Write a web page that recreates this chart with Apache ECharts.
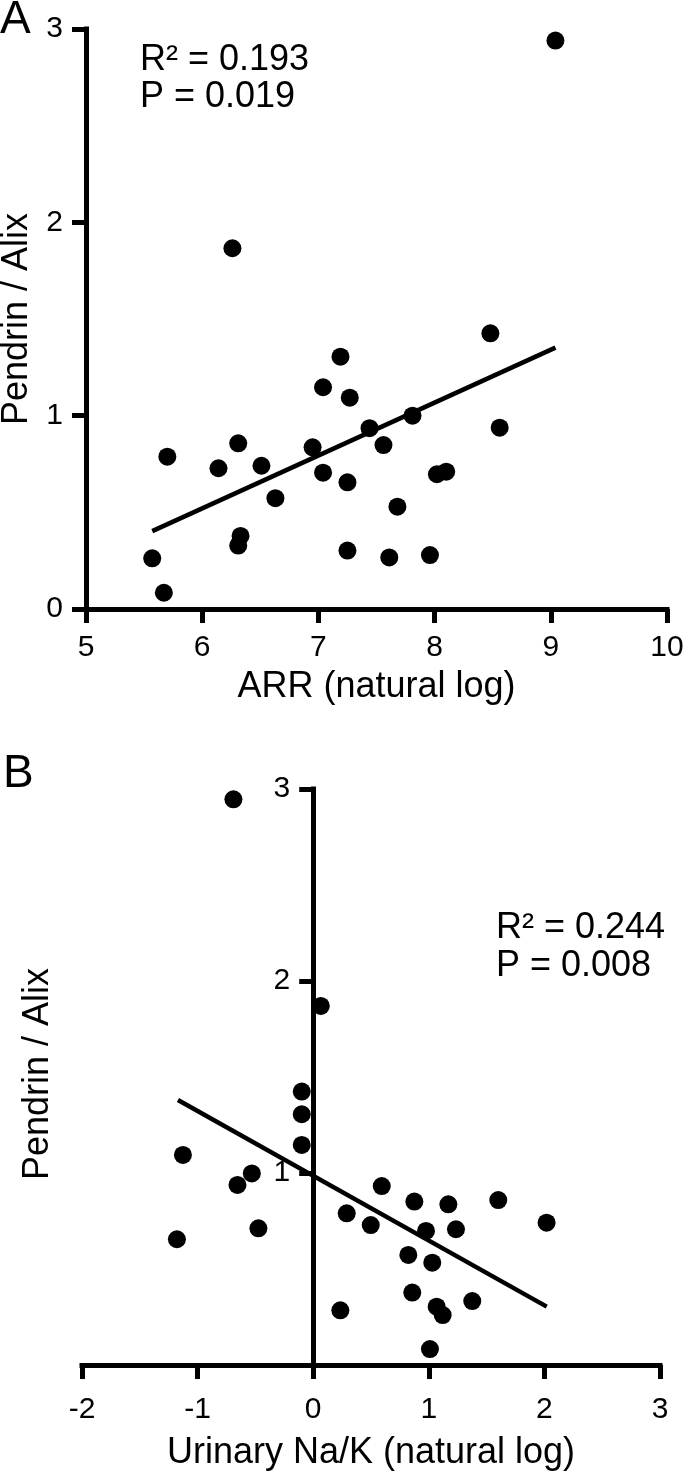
<!DOCTYPE html>
<html><head><meta charset="utf-8">
<script src="https://cdn.jsdelivr.net/npm/echarts@6/dist/echarts.min.js"></script>
<style>html,body{margin:0;padding:0;background:#fff}#c{width:685px;height:1475px}</style>
</head><body><div id="c"></div>
<script>
// Panel A: ARR (natural log) vs Pendrin / Alix
const arrX = [5.57, 5.67, 5.70, 6.14, 6.31, 6.33, 6.31, 6.51, 6.63, 6.95, 7.04, 7.04, 7.19, 7.27, 7.25, 7.44, 7.56, 7.81, 7.68, 7.25, 7.61, 7.96, 8.02, 8.10, 8.48, 8.56, 6.26, 9.04];
const arrY = [0.262, 0.084, 0.788, 0.728, 0.857, 0.378, 0.328, 0.741, 0.573, 0.836, 0.705, 1.147, 1.305, 1.093, 0.655, 0.935, 0.848, 1.000, 0.529, 0.302, 0.267, 0.279, 0.697, 0.710, 1.426, 0.938, 1.866, 2.940];
const arrFitX = [5.57, 9.04];
const arrFitY = [0.403, 1.352];
const arrStats = ['R\u00B2 = 0.193', 'P = 0.019'];
const arrXRange = [5, 10];

// Panel B: Urinary Na/K (natural log) vs Pendrin / Alix
const naKX = [-0.099, -0.099, -0.099, -1.127, -0.531, -0.655, -0.474, -1.179, 0.235, 0.290, -0.690, 0.066, 0.593, 0.498, 0.875, 1.169, 1.601, 2.019, 0.976, 1.235, 0.823, 1.030, 0.857, 1.068, 1.120, 1.376, 1.010];
const naKY = [1.424, 1.306, 1.146, 1.094, 0.998, 0.938, 0.712, 0.655, 0.285, 0.790, 2.946, 1.870, 0.932, 0.729, 0.851, 0.837, 0.859, 0.741, 0.698, 0.707, 0.573, 0.533, 0.377, 0.304, 0.260, 0.333, 0.083];
const naKFitX = [-1.17, 2.02];
const naKFitY = [1.380, 0.304];
const naKStats = ['R\u00B2 = 0.244', 'P = 0.008'];
const naKXRange = [-2, 3];

const yRange = [0, 3];
const yTitle = 'Pendrin / Alix';
const xTitleA = 'ARR (natural log)';
const xTitleB = 'Urinary Na/K (natural log)';

const FONT = '"Liberation Sans", Arial, sans-serif';
const zip = (xs, ys) => xs.map((x, i) => [x, ys[i]]);

const gridA = { left: 86, top: 29, width: 581, height: 580 };
const gridB = { left: 82, top: 789, width: 578, height: 576 };
// y axis of panel B crosses the x axis at x = 0
const yAxisBOffset = -((0 - naKXRange[0]) / (naKXRange[1] - naKXRange[0])) * gridB.width;

function label(margin, extra) {
  return Object.assign({ color: '#000', fontSize: 30, fontFamily: FONT, margin: margin }, extra || {});
}
function baseAxis(extra) {
  return Object.assign({
    type: 'value',
    axisLine: { show: true, lineStyle: { color: '#000', width: 5, cap: 'square' } },
    axisTick: { show: true, inside: false, length: 14, lineStyle: { color: '#000', width: 5 } },
    splitLine: { show: false },
    nameTextStyle: { color: '#000', fontSize: 36, fontFamily: FONT }
  }, extra);
}

const chart = echarts.init(document.getElementById('c'), null, { renderer: 'canvas' });
chart.setOption({
  backgroundColor: '#fff',
  animation: false,
  grid: [
    Object.assign({ outerBoundsMode: 'none' }, gridA),
    Object.assign({ outerBoundsMode: 'none' }, gridB)
  ],
  xAxis: [
    baseAxis({ gridIndex: 0, min: arrXRange[0], max: arrXRange[1], interval: 1,
      name: xTitleA, nameLocation: 'middle', nameGap: 60, axisLabel: label(24) }),
    baseAxis({ gridIndex: 1, min: naKXRange[0], max: naKXRange[1], interval: 1,
      name: xTitleB, nameLocation: 'middle', nameGap: 70, axisLabel: label(30) })
  ],
  yAxis: [
    baseAxis({ gridIndex: 0, min: yRange[0], max: yRange[1], interval: 1,
      name: yTitle, nameLocation: 'middle', nameGap: 48, axisLabel: label(23) }),
    baseAxis({ gridIndex: 1, min: yRange[0], max: yRange[1], interval: 1,
      position: 'left', offset: yAxisBOffset,
      axisLine: { show: true, onZero: false, lineStyle: { color: '#000', width: 5, cap: 'square' } },
      axisLabel: label(23, { formatter: v => (v === 0 ? '' : String(v)) }) })
  ],
  series: [
    { type: 'scatter', xAxisIndex: 0, yAxisIndex: 0, data: zip(arrX, arrY),
      symbol: 'circle', symbolSize: 18, itemStyle: { color: '#000', opacity: 1 }, z: 3 },
    { type: 'line', xAxisIndex: 0, yAxisIndex: 0, data: zip(arrFitX, arrFitY),
      showSymbol: false, symbol: 'none', lineStyle: { color: '#000', width: 4.5 }, z: 2 },
    { type: 'scatter', xAxisIndex: 1, yAxisIndex: 1, data: zip(naKX, naKY),
      symbol: 'circle', symbolSize: 18, itemStyle: { color: '#000', opacity: 1 }, z: 3 },
    { type: 'line', xAxisIndex: 1, yAxisIndex: 1, data: zip(naKFitX, naKFitY),
      showSymbol: false, symbol: 'none', lineStyle: { color: '#000', width: 4.5 }, z: 2 }
  ],
  graphic: [
    { type: 'text', left: 0, top: -3, style: { text: 'A', font: '46px ' + FONT, fill: '#000' } },
    { type: 'text', left: 3, top: 751, style: { text: 'B', font: '46px ' + FONT, fill: '#000' } },
    { type: 'text', left: 140, top: 42, style: { text: arrStats[0], font: '36px ' + FONT, fill: '#000' } },
    { type: 'text', left: 140, top: 79, style: { text: arrStats[1], font: '36px ' + FONT, fill: '#000' } },
    { type: 'text', left: 496, top: 910, style: { text: naKStats[0], font: '36px ' + FONT, fill: '#000' } },
    { type: 'text', left: 496, top: 948, style: { text: naKStats[1], font: '36px ' + FONT, fill: '#000' } },
    { type: 'text', x: 38, y: 1074, rotation: Math.PI / 2,
      style: { text: yTitle, font: '36px ' + FONT, fill: '#000', align: 'center', verticalAlign: 'middle' } }
  ]
});
</script></body></html>
